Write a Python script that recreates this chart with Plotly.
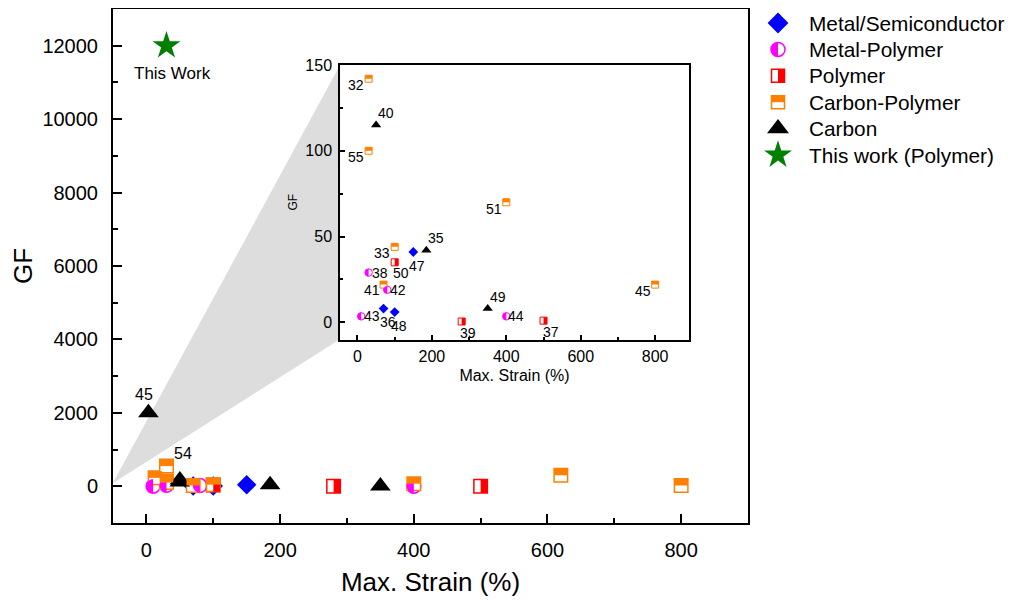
import numpy as np
import plotly.graph_objects as go

# ---------------- data ----------------
metal_x = [70, 150, 100]
metal_y = [8, 41, 6]
metal_lbl = ["36", "47", "48"]

mp_x = [10, 30, 80, 400]
mp_y = [3.5, 29, 19, 3.5]
mp_lbl = ["43", "38", "42", "44"]

poly_x = [100, 280, 500]
poly_y = [35, 0.5, 1]
poly_lbl = ["50", "39", "37"]

cp_x = [30, 30, 400, 100, 70, 800, 13, 30, 620]
cp_y = [142, 100, 70, 44, 22, 22, 230, 550, 300]
cp_lbl = ["32", "55", "51", "33", "41", "45", "", "", ""]

carbon_x = [50, 185, 350, 3, 50]
carbon_y = [115, 42, 8, 2000, 170]
carbon_lbl = ["40", "35", "49", "45", "54"]

tw_x = [30]
tw_y = [12000]
tw_lbl = ["This Work"]

legend_names = ["Metal/Semiconductor", "Metal-Polymer", "Polymer",
                "Carbon-Polymer", "Carbon", "This work (Polymer)"]

main_x_range = [-50, 900]
main_y_range = [-1000, 13000]
inset_x_range = [-47, 891]
inset_y_range = [-10, 150]

# ---------------- styles / layout positions ----------------
OFF = 8                      # page margin of the html body
W, H = 1016 - OFF, 600 - OFF  # figure size
FONT = "Liberation Sans, Arial, sans-serif"
BLUE, MAG, RED, ORA, BLK, GRN = "#0000FF", "#FF00FF", "#FF0000", "#FF8000", "#000000", "#008000"

# label offsets in pixels (dx right, dy down)
inset_off = {
    ("m", "36"): (4, 13), ("m", "47"): (4, 14), ("m", "48"): (4, 14),
    ("mp", "43"): (11, 0), ("mp", "38"): (11, 0), ("mp", "42"): (11, 0), ("mp", "44"): (10, 0),
    ("p", "50"): (6, 11), ("p", "39"): (6, 12), ("p", "37"): (7, 11),
    ("cp", "32"): (-13, 6), ("cp", "55"): (-13, 6), ("cp", "51"): (-12, 7),
    ("cp", "33"): (-13, 6), ("cp", "41"): (-12, 5), ("cp", "45"): (-12, 6),
    ("c", "40"): (10, -12), ("c", "35"): (10, -12), ("c", "49"): (10, -12),
}
main_off = {("c", "45"): (-4, -18), ("c", "54"): (3, -27), ("tw", "This Work"): (6, 28)}

def fx(px):
    return (px - OFF) / W

def fy(py):
    return 1 - (py - OFF) / H

def px_dom_x(a, b):
    return [fx(a), min(1.0, fx(b))]

def px_dom_y(top, bottom):
    return [fy(bottom), min(1.0, fy(top))]

fig = go.Figure()
shapes = []
annotations = []

def semicircle_path(r, side, n=20):
    if side == "left":
        th = np.linspace(np.pi / 2, 3 * np.pi / 2, n)
    else:
        th = np.linspace(-np.pi / 2, np.pi / 2, n)
    pts = ["%s%.2f,%.2f" % ("M" if i == 0 else "L", r * np.cos(t), r * np.sin(t)) for i, t in enumerate(th)]
    return " ".join(pts) + " Z"

def add_half(xs, ys, kind, color, size, xref, yref, ymax=None):
    h = size / 2.0
    for x, y in zip(xs, ys):
        if ymax is not None and y > ymax:
            continue
        base = dict(xref=xref, yref=yref, xsizemode="pixel", ysizemode="pixel",
                    xanchor=x, yanchor=y, fillcolor=color, line=dict(width=0), layer="above")
        if kind == "circle_left":
            base.update(type="path", path=semicircle_path(h, "left"))
        elif kind == "square_right":
            base.update(type="rect", x0=0, x1=h, y0=-h, y1=h)
        elif kind == "square_top":
            base.update(type="rect", x0=-h, x1=h, y0=0, y1=h)
        shapes.append(base)

def add_series(xs, ys, symbol, fill, line_color, size, lw, xa, ya):
    fig.add_trace(go.Scatter(
        x=xs, y=ys, mode="markers", xaxis=xa, yaxis=ya, showlegend=False,
        marker=dict(symbol=symbol, size=size, color=fill,
                    line=dict(color=line_color, width=lw)),
        hoverinfo="skip"))

# ---- main plot (x, y) ----
add_series(metal_x, metal_y, "diamond", BLUE, BLUE, 15, 0, "x", "y")
add_series(mp_x, mp_y, "circle", "white", MAG, 14, 1.5, "x", "y")
add_series(poly_x, poly_y, "square", "white", RED, 13.5, 1.5, "x", "y")
add_series(cp_x, cp_y, "square", "white", ORA, 13.5, 1.5, "x", "y")
add_series(carbon_x, carbon_y, "triangle-up", BLK, BLK, 18, 0, "x", "y")
add_series(tw_x, tw_y, "star", GRN, GRN, 21, 0, "x", "y")
add_half(mp_x, mp_y, "circle_left", MAG, 14, "x", "y")
add_half(poly_x, poly_y, "square_right", RED, 13.5, "x", "y")
add_half(cp_x, cp_y, "square_top", ORA, 13.5, "x", "y")

# ---- inset (x2, y2) ----
ymax_in = inset_y_range[1]
add_series(metal_x, metal_y, "diamond", BLUE, BLUE, 7.5, 0, "x2", "y2")
add_series(mp_x, mp_y, "circle", "white", MAG, 7.5, 1, "x2", "y2")
add_series(poly_x, poly_y, "square", "white", RED, 7, 1, "x2", "y2")
add_series(cp_x, cp_y, "square", "white", ORA, 7, 1, "x2", "y2")
add_series(carbon_x, carbon_y, "triangle-up", BLK, BLK, 9, 0, "x2", "y2")
add_half(mp_x, mp_y, "circle_left", MAG, 7.5, "x2", "y2", ymax_in)
add_half(poly_x, poly_y, "square_right", RED, 7, "x2", "y2", ymax_in)
add_half(cp_x, cp_y, "square_top", ORA, 7, "x2", "y2", ymax_in)

# ---- point labels ----
groups = [("m", metal_x, metal_y, metal_lbl), ("mp", mp_x, mp_y, mp_lbl),
          ("p", poly_x, poly_y, poly_lbl), ("cp", cp_x, cp_y, cp_lbl),
          ("c", carbon_x, carbon_y, carbon_lbl), ("tw", tw_x, tw_y, tw_lbl)]
for key, xs, ys, ls in groups:
    for x, y, l in zip(xs, ys, ls):
        if not l:
            continue
        if (key, l) in inset_off and y <= ymax_in:
            dx, dy = inset_off[(key, l)]
            annotations.append(dict(x=x, y=y, xref="x2", yref="y2", text=l, showarrow=False,
                                    xshift=dx, yshift=-dy, font=dict(family=FONT, size=14, color="black")))
        if (key, l) in main_off:
            dx, dy = main_off[(key, l)]
            annotations.append(dict(x=x, y=y, xref="x", yref="y", text=l, showarrow=False,
                                    xshift=dx, yshift=-dy,
                                    font=dict(family=FONT, size=17 if key == "tw" else 16, color="black")))

# ---- zoom wedge ----
shapes.append(dict(type="path", xref="paper", yref="paper",
                   path="M%.4f,%.4f L%.4f,%.4f L%.4f,%.4f Z" % (fx(112.7), fy(483.3), fx(340), fy(65),
                                                                  fx(340), fy(339.3)),
                   fillcolor="rgb(221,221,221)", line=dict(width=0), layer="below"))

# ---- manual legend (x3, y3 in page-pixel units) ----
leg_sym = [("diamond", BLUE, BLUE, 16, 0, None),
           ("circle", "white", MAG, 14, 1.5, "circle_left"),
           ("square", "white", RED, 13, 1.5, "square_right"),
           ("square", "white", ORA, 13, 1.5, "square_top"),
           ("triangle-up", BLK, BLK, 19, 0, None),
           ("star", GRN, GRN, 21, 0, None)]
row0, row_dy, sym_x, txt_x = 23, 26.4, 778, 807
for i, (name, (sym, fill, lc, sz, lw, half)) in enumerate(zip(legend_names, leg_sym)):
    ry = row0 + i * row_dy
    add_series([sym_x], [ry], sym, fill, lc, sz, lw, "x3", "y3")
    if half:
        add_half([sym_x], [ry], half, lc, sz, "x3", "y3")
    annotations.append(dict(x=txt_x, y=ry, xref="x3", yref="y3", text=name, showarrow=False,
                            xanchor="left", yanchor="middle",
                            font=dict(family=FONT, size=20.8, color="black")))

axis_common = dict(showline=True, linecolor="black", mirror=True, showgrid=False,
                   zeroline=False, ticks="inside", tickcolor="black")

fig.update_layout(
    width=W, height=H, margin=dict(l=0, r=0, t=0, b=0),
    paper_bgcolor="white", plot_bgcolor="rgba(0,0,0,0)",
    showlegend=False,
    font=dict(family=FONT, color="black"),
    xaxis=dict(domain=px_dom_x(113, 748), range=main_x_range, anchor="y",
               linewidth=2, tickwidth=2, ticklen=9, dtick=200, tick0=0,
               minor=dict(ticks="inside", ticklen=5, tickwidth=2, dtick=100, tickcolor="black"),
               tickfont=dict(size=20), ticklabelstandoff=8,
               title=dict(text="Max. Strain (%)", font=dict(size=26), standoff=13),
               automargin=False, **axis_common),
    yaxis=dict(domain=px_dom_y(9, 523), range=main_y_range, anchor="x",
               linewidth=2, tickwidth=2, ticklen=9, dtick=2000, tick0=0, tickformat="d",
               minor=dict(ticks="inside", ticklen=5, tickwidth=2, dtick=1000, tickcolor="black"),
               tickfont=dict(size=20), ticklabelstandoff=9,
               title=dict(text="GF", font=dict(size=26), standoff=8),
               automargin=False, **axis_common),
    xaxis2=dict(domain=px_dom_x(340, 689), range=inset_x_range, anchor="y2",
                linewidth=1.5, tickwidth=1.5, ticklen=5, dtick=200, tick0=0,
                minor=dict(ticks="inside", ticklen=3, tickwidth=1.5, dtick=100, tickcolor="black"),
                tickfont=dict(size=16), ticklabelstandoff=2,
                title=dict(text="Max. Strain (%)", font=dict(size=16), standoff=5),
                automargin=False, **axis_common),
    yaxis2=dict(domain=px_dom_y(65, 339.5), range=inset_y_range, anchor="x2",
                linewidth=1.5, tickwidth=1.5, ticklen=5, dtick=50, tick0=0,
                minor=dict(ticks="inside", ticklen=3, tickwidth=1.5, dtick=25, tickcolor="black"),
                tickfont=dict(size=16), ticklabelstandoff=3,
                title=dict(text="GF", font=dict(size=12), standoff=5),
                automargin=False, **axis_common),
    xaxis3=dict(domain=px_dom_x(752, 1016), range=[752, 1016], anchor="y3", visible=False),
    yaxis3=dict(domain=[0, 1], range=[600, OFF], anchor="x3", visible=False),
    shapes=shapes,
    annotations=annotations,
)

fig.write_html("out.html")
